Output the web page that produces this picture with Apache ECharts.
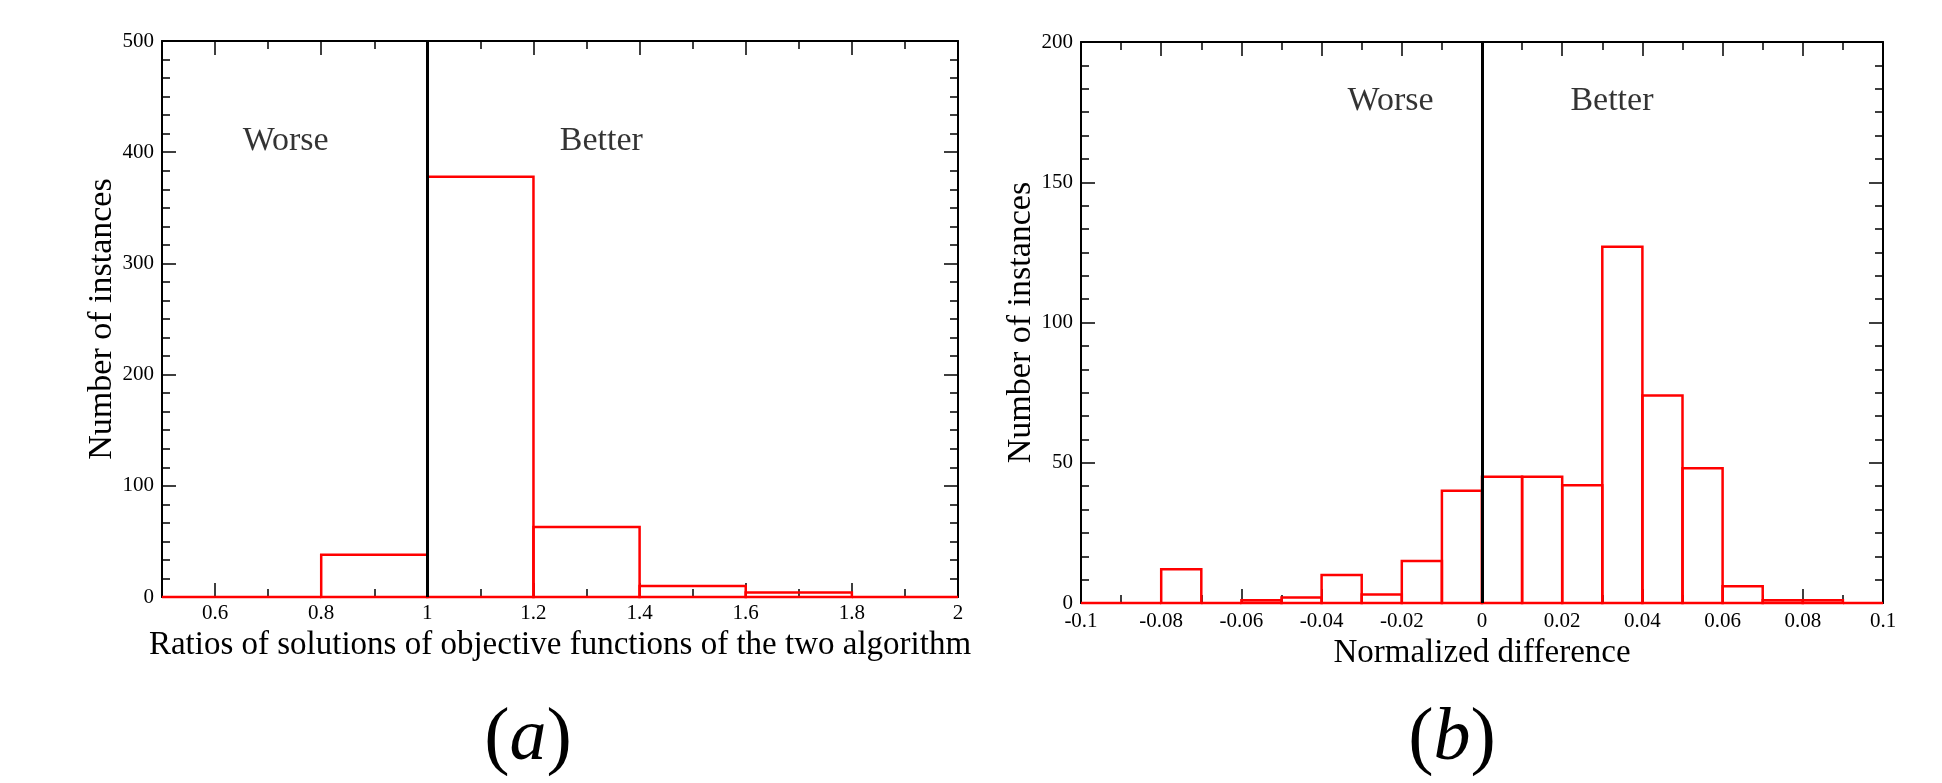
<!DOCTYPE html>
<html>
<head>
    <meta charset="UTF-8">
    <title>Histograms (a) and (b)</title>
    <script src="https://cdn.jsdelivr.net/npm/echarts@6/dist/echarts.min.js"></script>
    <style>
        html, body { margin: 0; padding: 0; background: #fff; }
    </style>
</head>
<body>
    <div id="main" style="width: 1942px;height:783px;"></div>
    <script type="text/javascript">
        var myChart = echarts.init(document.getElementById('main'));

        // (a) ratio histogram, bins of width 0.2
        var ratioBinStart = [0.4, 0.6, 0.8, 1.0, 1.2, 1.4, 1.6, 1.8];
        var ratioCounts = [0, 0, 38, 378, 63, 10, 4, 0];
        var ratioMajorTicks = [0.6, 0.8, 1, 1.2, 1.4, 1.6, 1.8, 2];
        var ratioMinorTicks = [0.7, 0.9, 1.1, 1.3, 1.5, 1.7, 1.9];

        // (b) normalized difference histogram, bins of width 0.01
        var diffBinStart = [-0.1, -0.09, -0.08, -0.07, -0.06, -0.05, -0.04, -0.03, -0.02, -0.01,
                            0, 0.01, 0.02, 0.03, 0.04, 0.05, 0.06, 0.07, 0.08, 0.09];
        var diffCounts = [0, 0, 12, 0, 1, 2, 10, 3, 15, 40,
                          45, 45, 42, 127, 74, 48, 6, 1, 1, 0];

        // text annotations [x, y, text]
        var ratioNotes = [[0.733, 410, 'Worse'], [1.328, 410, 'Better']];
        var diffNotes = [[-0.0228, 179, 'Worse'], [0.0324, 179, 'Better']];

        var FONT = 'Liberation Serif';

        function toPairs(starts, counts) {
            return starts.map(function (s, i) { return [s, counts[i]]; });
        }

        // 每个柱子画成红色空心矩形
        function histRender(binWidth) {
            return function (params, api) {
                var start = api.value(0);
                var p0 = api.coord([start, api.value(1)]);
                var p1 = api.coord([start + binWidth, 0]);
                var shape = echarts.graphic.clipRectByRect({
                    x: p0[0], y: p0[1], width: p1[0] - p0[0], height: p1[1] - p0[1]
                }, {
                    x: params.coordSys.x, y: params.coordSys.y - 2,
                    width: params.coordSys.width, height: params.coordSys.height + 4
                });
                if (!shape) return;
                return {
                    type: 'rect',
                    shape: shape,
                    style: { fill: 'none', stroke: '#ff0000', lineWidth: 2.5 }
                };
            };
        }

        function tickLabel() {
            return { color: '#000', fontFamily: FONT, fontSize: 21 };
        }

        function xAxisCommon(grid, pos, min, max) {
            return {
                type: 'value', gridIndex: grid, position: pos, min: min, max: max,
                splitLine: { show: false },
                axisLine: { show: true, onZero: false, lineStyle: { color: '#000', width: 2 } },
                axisTick: { inside: true, length: 14, lineStyle: { color: '#000', width: 1.5 } },
                axisLabel: { show: false }
            };
        }

        function yAxisCommon(grid, pos, max, interval) {
            return {
                type: 'value', gridIndex: grid, position: pos, min: 0, max: max, interval: interval,
                splitLine: { show: false },
                axisLine: { show: true, onZero: false, lineStyle: { color: '#000', width: 2 } },
                axisTick: { inside: true, length: 14, lineStyle: { color: '#000', width: 1.5 } },
                minorTick: { show: true, splitNumber: 6, length: 8, lineStyle: { color: '#000', width: 1.5 } },
                axisLabel: { show: false }
            };
        }

        var nameStyle = { color: '#000', fontFamily: FONT, fontSize: 33 };

        // x axes
        var xa0 = xAxisCommon(0, 'bottom', 0.5, 2);
        xa0.axisTick.customValues = ratioMajorTicks;
        xa0.axisLabel = Object.assign(tickLabel(), { show: true, margin: 6, customValues: ratioMajorTicks });
        xa0.name = 'Ratios of solutions of objective functions of the two algorithm';
        xa0.nameLocation = 'middle';
        xa0.nameGap = 24;
        xa0.nameTextStyle = nameStyle;

        var xa1 = xAxisCommon(0, 'bottom', 0.5, 2);
        xa1.axisLine.show = false;
        xa1.axisTick.customValues = ratioMinorTicks;
        xa1.axisTick.length = 8;

        var xa2 = xAxisCommon(0, 'top', 0.5, 2);
        xa2.axisTick.customValues = ratioMajorTicks;

        var xa3 = xAxisCommon(0, 'top', 0.5, 2);
        xa3.axisLine.show = false;
        xa3.axisTick.customValues = ratioMinorTicks;
        xa3.axisTick.length = 8;

        var xa4 = xAxisCommon(1, 'bottom', -0.1, 0.1);
        xa4.interval = 0.02;
        xa4.minorTick = { show: true, splitNumber: 2, length: 8, lineStyle: { color: '#000', width: 1.5 } };
        xa4.axisLabel = Object.assign(tickLabel(), { show: true, margin: 8 });
        xa4.name = 'Normalized difference';
        xa4.nameLocation = 'middle';
        xa4.nameGap = 25;
        xa4.nameTextStyle = nameStyle;

        var xa5 = xAxisCommon(1, 'top', -0.1, 0.1);
        xa5.interval = 0.02;
        xa5.minorTick = { show: true, splitNumber: 2, length: 8, lineStyle: { color: '#000', width: 1.5 } };

        // y axes
        var ya0 = yAxisCommon(0, 'left', 500, 100);
        ya0.axisLabel = Object.assign(tickLabel(), { show: true, margin: 8 });
        ya0.name = 'Number of instances';
        ya0.nameLocation = 'middle';
        ya0.nameGap = 39;
        ya0.nameTextStyle = Object.assign({}, nameStyle, { fontSize: 34 });
        var ya1 = yAxisCommon(0, 'right', 500, 100);

        var ya2 = yAxisCommon(1, 'left', 200, 50);
        ya2.axisLabel = Object.assign(tickLabel(), { show: true, margin: 8 });
        ya2.name = 'Number of instances';
        ya2.nameLocation = 'middle';
        ya2.nameGap = 39;
        ya2.nameTextStyle = Object.assign({}, nameStyle, { fontSize: 34 });
        var ya3 = yAxisCommon(1, 'right', 200, 50);

        function divider(x) {
            return {
                silent: true,
                symbol: ['none', 'none'],
                label: { show: false },
                lineStyle: { color: '#000', width: 3, type: 'solid' },
                data: [{ xAxis: x }]
            };
        }

        function noteSeries(xi, yi, notes) {
            return {
                type: 'scatter', xAxisIndex: xi, yAxisIndex: yi,
                symbolSize: 0, silent: true, z: 5,
                data: notes.map(function (n) { return { value: [n[0], n[1]], name: n[2] }; }),
                label: {
                    show: true, position: 'inside', formatter: '{b}',
                    color: '#000', fontFamily: FONT, fontSize: 34
                }
            };
        }

        var capStyle = {
            p: { fontFamily: FONT, fontSize: 76, fill: '#000' },
            i: { fontFamily: FONT, fontSize: 74, fontStyle: 'italic', fill: '#000' }
        };

        var option = {
            animation: false,
            backgroundColor: '#fff',
            grid: [
                { left: 162, top: 41, width: 796, height: 556 },
                { left: 1081, top: 42, width: 802, height: 561 }
            ],
            xAxis: [xa0, xa1, xa2, xa3, xa4, xa5],
            yAxis: [ya0, ya1, ya2, ya3],
            series: [
                {
                    type: 'custom', xAxisIndex: 0, yAxisIndex: 0,
                    renderItem: histRender(0.2),
                    encode: { x: 0, y: 1 },
                    data: toPairs(ratioBinStart, ratioCounts),
                    markLine: divider(1)
                },
                {
                    type: 'custom', xAxisIndex: 4, yAxisIndex: 2,
                    renderItem: histRender(0.01),
                    encode: { x: 0, y: 1 },
                    data: toPairs(diffBinStart, diffCounts),
                    markLine: divider(0)
                },
                noteSeries(0, 0, ratioNotes),
                noteSeries(4, 2, diffNotes)
            ],
            graphic: [
                {
                    type: 'text', x: 528, y: 740,
                    style: { text: '{p|(}{i|a}{p|)}', rich: capStyle, align: 'center', verticalAlign: 'middle' }
                },
                {
                    type: 'text', x: 1452, y: 740,
                    style: { text: '{p|(}{i|b}{p|)}', rich: capStyle, align: 'center', verticalAlign: 'middle' }
                }
            ]
        };

        myChart.setOption(option);
    </script>
</body>
</html>
